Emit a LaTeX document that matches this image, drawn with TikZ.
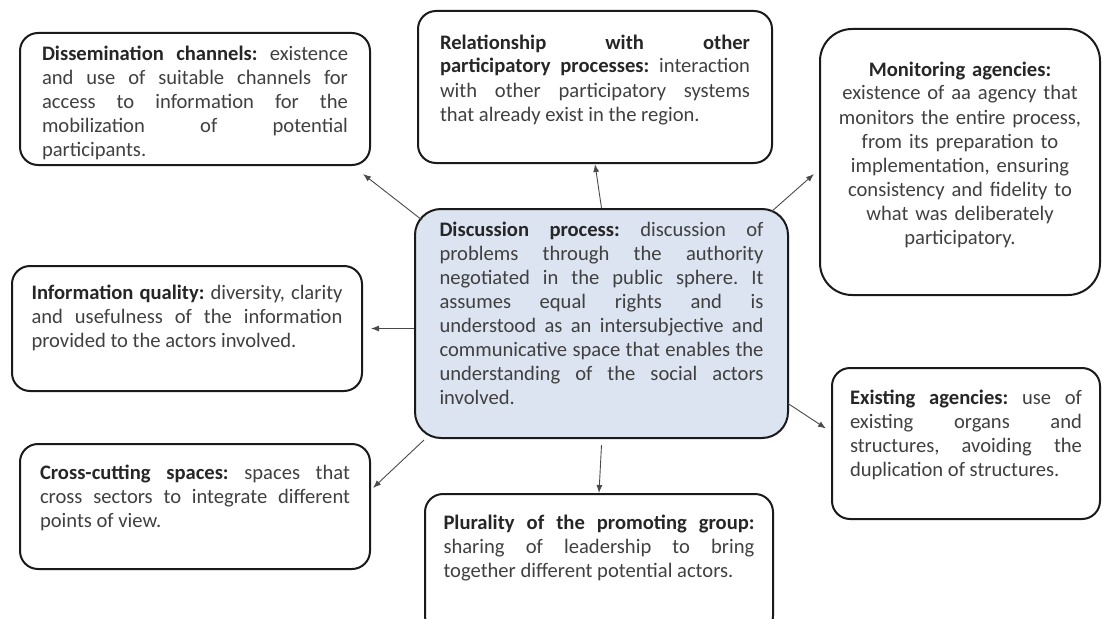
\documentclass[tikz,border=0pt]{standalone}
\usepackage{fontspec}
\setmainfont{Carlito}
\usepackage{xcolor}
\usepackage{tikz}
\usetikzlibrary{shapes, arrows, arrows.meta, positioning, calc}

\definecolor{boxfill}{HTML}{DBE4F0}
\definecolor{bodytext}{HTML}{404040}
\definecolor{headtext}{HTML}{262626}
\definecolor{edge}{HTML}{1A1A1A}
\definecolor{linkcol}{HTML}{4A4A4A}
\hyphenpenalty=10000
\exhyphenpenalty=10000
\frenchspacing
\newcommand{\boxhead}[1]{{\color{headtext}\bfseries #1}}

\begin{document}
\begin{tikzpicture}[
    x=1pt,
    y=-1pt,
    block/.style={
        rectangle,
        draw=edge,
        line width=2pt,
        rounded corners=18pt,
        anchor=north,
        inner xsep=0pt,
        inner ysep=0pt,
        align=justify,
        text=bodytext,
        font=\fontsize{20.6}{24}\selectfont
    },
    centre/.style={
        block,
        fill=boxfill,
        rounded corners=26pt
    },
    line/.style={
        draw,
        -{Latex[length=8pt, width=6pt]},
        line width=0.9pt,
        linkcol
    }
]
\useasboundingbox (0,0) rectangle (1102,618);

% Nodes
\node [centre, minimum width=373pt, text width=324pt, text height=27pt, text depth=202pt] (cen) at (601.5,208)
    {\boxhead{Discussion process:} discussion of \linebreak problems through the authority \linebreak negotiated in the public sphere. It \linebreak assumes equal rights and is \linebreak understood as an intersubjective and \linebreak communicative space that enables the \linebreak understanding of the social actors \linebreak involved.};
\node [block, minimum width=350pt, text width=306pt, text height=27pt, text depth=105pt] (diss) at (195,32)
    {\boxhead{Dissemination channels:} existence \linebreak and use of suitable channels for \linebreak access to information for the \linebreak mobilization of potential \linebreak participants.};
\node [block, minimum width=354pt, text width=310pt, text height=38pt, text depth=114pt] (rel) at (595,10)
    {\boxhead{Relationship with other \linebreak participatory processes:} interaction \linebreak with other participatory systems \linebreak that already exist in the region.};
\node [block, align=center, rounded corners=32pt, minimum width=280pt, text width=250pt, text height=47pt, text depth=219pt] (mon) at (960,28)
    {\boxhead{Monitoring agencies:}\\ existence of aa agency that\\ monitors the entire process,\\ from its preparation to\\ implementation, ensuring\\ consistency and fidelity to\\ what was deliberately\\ participatory.};
\node [block, minimum width=350pt, text width=311pt, text height=33pt, text depth=92pt] (info) at (187,265)
    {\boxhead{Information quality:} diversity, clarity \linebreak and usefulness of the information \linebreak provided to the actors involved.};
\node [block, minimum width=350pt, text width=310pt, text height=35pt, text depth=90pt] (cross) at (195,443)
    {\boxhead{Cross-cutting spaces:} spaces that \linebreak cross sectors to integrate different \linebreak points of view.};
\node [block, minimum width=348pt, text width=311pt, text height=35pt, text depth=105pt] (plur) at (599,493)
    {\boxhead{Plurality of the promoting group:} \linebreak sharing of leadership to bring \linebreak together different potential actors.};
\node [block, minimum width=268pt, text width=232pt, text height=36pt, text depth=115pt] (exist) at (966,367)
    {\boxhead{Existing agencies:} use of \linebreak existing organs and \linebreak structures, avoiding the \linebreak duplication of structures.};

% Paths
\path [line] ([shift={(8,12)}]cen.north west) -- ([shift={(-8,8)}]diss.south east);
\path [line] (cen.north) -- (rel.south);
\path [line] ([shift={(-18,4)}]cen.north east) -- ([shift={(-5,12)}]mon.west);
\path [line] (info.east -| cen.west) -- ([xshift=8pt]info.east);
\path [line] ([shift={(10,1)}]cen.south west) -- ([shift={(2,45)}]cross.north east);
\path [line] ([yshift=-6pt]cen.south) -- (plur.north);
\path [line] ([shift={(-1,80)}]cen.east) -- ([shift={(-5,-15)}]exist.west);

\end{tikzpicture}
\end{document}
